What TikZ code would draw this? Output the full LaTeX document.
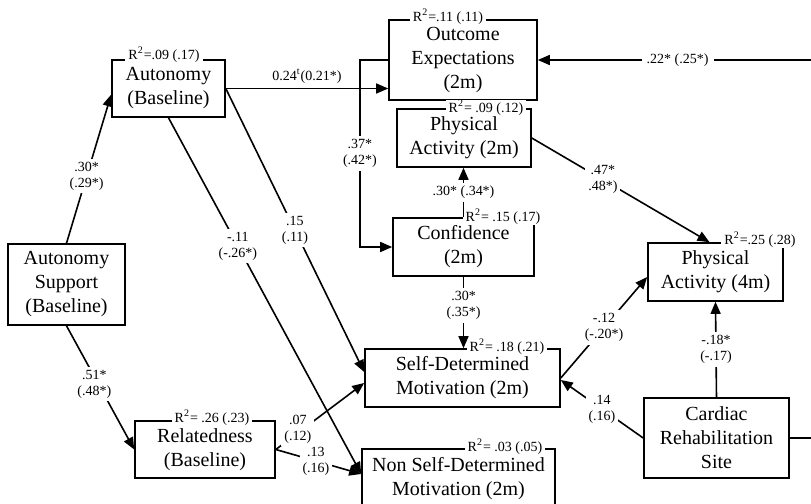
\documentclass[tikz,border=0pt]{standalone}
\usepackage{fontspec}
\setmainfont{Liberation Serif}
\usetikzlibrary{arrows.meta}
\tikzset{
  var/.style={draw,align=center,inner sep=0pt,font=\fontsize{10}{12}\selectfont},
  coef/.style={fill=white,inner sep=1.5pt,align=center,font=\fontsize{7}{8}\selectfont},
  rsq/.style={fill=white,inner xsep=1.5pt,inner ysep=0.3pt,font=\fontsize{7}{8}\selectfont},
}
\begin{document}
\begin{tikzpicture}[x=0.5pt,y=-0.5pt,line width=0.8pt,>={Triangle[length=6pt,width=5pt]}]
  \useasboundingbox (0,0) rectangle (811,504);
  \draw
    (66.5,284.5) node[var,minimum width=58.5pt,minimum height=40.5pt] (as){Autonomy\\Support\\(Baseline)}
    (168.5,88.5) node[var,minimum width=56.5pt,minimum height=28.5pt] (au){Autonomy\\(Baseline)}
    (463,60) node[var,minimum width=74pt,minimum height=40pt] (oe){Outcome\\Expectations\\(2m)}
    (464,138) node[var,minimum width=67pt,minimum height=29pt] (pa2){Physical\\Activity (2m)}
    (463.5,247) node[var,minimum width=70.5pt,minimum height=29pt] (conf){Confidence\\(2m)}
    (462.5,378) node[var,minimum width=97.5pt,minimum height=29pt] (sdm){Self-Determined\\Motivation (2m)}
    (458.5,479) node[var,minimum width=96.5pt,minimum height=30pt] (nsdm){Non Self-Determined\\Motivation (2m)}
    (715.5,272) node[var,minimum width=67.5pt,minimum height=29pt] (pa4){Physical\\Activity (4m)}
    (716.5,438) node[var,minimum width=72.5pt,minimum height=40pt] (crs){Cardiac\\Rehabilitation\\Site}
    (205,449.5) node[var,minimum width=70pt,minimum height=28.5pt] (rel){Relatedness\\(Baseline)};
  \draw
    (164,55) node[rsq] (rau){R\textsuperscript{2}=.09 (.17)}
    (448,17) node[rsq] (roe){R\textsuperscript{2}=.11 (.11)}
    (486,108) node[rsq] (rpa2){R\textsuperscript{2}= .09 (.12)}
    (503,217) node[rsq] (rconf){R\textsuperscript{2}= .15 (.17)}
    (507,347) node[rsq] (rsdm){R\textsuperscript{2}= .18 (.21)}
    (505,447) node[rsq] (rnsdm){R\textsuperscript{2}= .03 (.05)}
    (760,240) node[rsq] (rpa4){R\textsuperscript{2}=.25 (.28)}
    (212,418) node[rsq] (rrel){R\textsuperscript{2}= .26 (.23)};
  \coordinate (oeturn) at (360,60);
  \coordinate (crsturn) at (822,438);
  \begin{scope}[->]
    \draw (as.north) -- ([yshift=-3pt]au.west) node[coef,pos=0.45] {.30*\\(.29*)};
    \draw (as.south) -- (rel.west) node[coef,pos=0.47,xshift=-2pt] {.51*\\(.48*)};
    \draw (au.east) -- (au.east -| oe.west) node[above,midway,inner sep=2pt,font=\fontsize{7}{8}\selectfont] {0.24\textsuperscript{t}(0.21*)};
    \draw (oe.west) -- (oeturn) |- node[coef,pos=0.25] {.37*\\(.42*)} (conf.west);
    \draw (au.east) -- ([yshift=3pt]sdm.west) node[coef,midway] {.15\\(.11)};
    \draw (au.south) -- ([yshift=2.5pt]nsdm.west) node[coef,pos=0.36] {-.11\\(-.26*)};
    \draw (rel.east) -- ([yshift=-2.5pt]sdm.west) node[coef,pos=0.25,yshift=2pt] {.07\\(.12)};
    \draw (rel.east) -- ([yshift=2.5pt]nsdm.west) node[coef,pos=0.47] {.13\\(.16)};
    \draw (conf.north) -- (conf.north |- pa2.south) node[coef,midway] {.30* (.34*)};
    \draw (conf.south) -- (conf.south |- sdm.north) node[coef,pos=0.4] {.30*\\(.35*)};
    \draw (pa2.east) -- ([xshift=-3pt]pa4.north) node[coef,pos=0.4] {.47*\\.48*)};
    \draw (sdm.east) -- ([yshift=-2.5pt]pa4.west) node[coef,midway] {-.12\\(-.20*)};
    \draw (crs.west) -- ([yshift=-1pt]sdm.east) node[coef,midway] {.14\\(.16)};
    \draw (crs.north) -- (pa4.south) node[coef,midway] {-.18*\\(-.17)};
    \draw (crs.east) -- (crsturn) |- node[coef,pos=0.754,inner sep=2.5pt] {.22* (.25*)} (oe.east);
  \end{scope}
\end{tikzpicture}
\end{document}
